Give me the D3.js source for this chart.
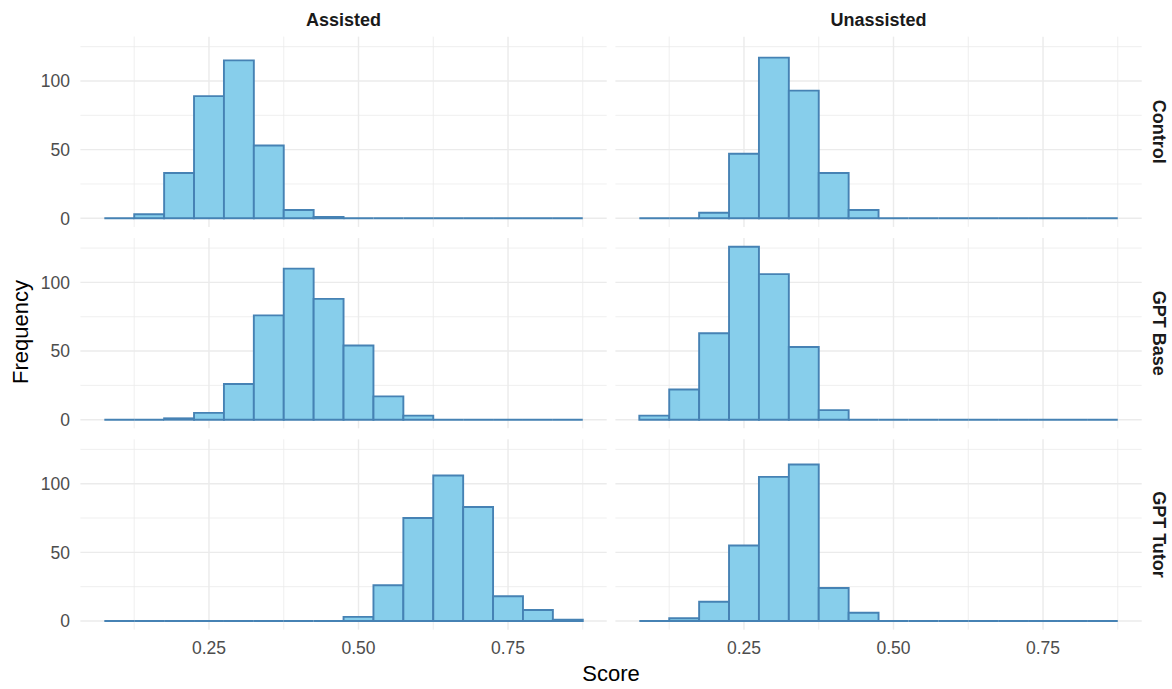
<!DOCTYPE html>
<html><head><meta charset="utf-8">
<script src="https://cdn.jsdelivr.net/npm/d3@7"></script>
<style>body{margin:0;background:#fff;} svg{display:block;font-family:"Liberation Sans",Arial,sans-serif;}</style>
</head><body>
<svg id="chart" width="1172" height="689"></svg>
<script>
// Data
const binCenters = [0.10,0.15,0.20,0.25,0.30,0.35,0.40,0.45,0.50,0.55,0.60,0.65,0.70,0.75,0.80,0.85];
const binWidth = 0.05;
const rowLabels = ["Control","GPT Base","GPT Tutor"];
const colLabels = ["Assisted","Unassisted"];
const controlAssisted     = [0,3,33,89,115,53,6,1,0,0,0,0,0,0,0,0];
const controlUnassisted   = [0,0,4,47,117,93,33,6,0,0,0,0,0,0,0,0];
const gptBaseAssisted     = [0,0,1,5,26,76,110,88,54,17,3,0,0,0,0,0];
const gptBaseUnassisted   = [3,22,63,126,106,53,7,0,0,0,0,0,0,0,0,0];
const gptTutorAssisted    = [0,0,0,0,0,0,0,0,3,26,75,106,83,18,8,1];
const gptTutorUnassisted  = [0,2,14,55,105,114,24,6,0,0,0,0,0,0,0,0];
const xTicks = [0.25,0.50,0.75];
const xMinor = [0.125,0.375,0.625,0.875];
const yTicks = [0,50,100];
const yMinor = [25,75,125];
const panels = [
  [controlAssisted, controlUnassisted],
  [gptBaseAssisted, gptBaseUnassisted],
  [gptTutorAssisted, gptTutorUnassisted]
];

const svg = d3.select("#chart");
const colX = [[80.4,606.7],[615.4,1141.7]];
const zeroY = [218.3,419.7,621.0];
const pxPerUnit = 1.373;
const yDom = [-6.3,132.3];

const fill = "#87CEEB", stroke = "#4682B4";

panels.forEach((row, ri) => {
  row.forEach((counts, ci) => {
    const x = d3.scaleLinear().domain([0.035,0.915]).range(colX[ci]);
    const y = d3.scaleLinear().domain(yDom)
      .range([zeroY[ri] + 6.3*pxPerUnit, zeroY[ri] - 132.3*pxPerUnit]);
    const g = svg.append("g");
    const [x0,x1] = colX[ci];
    const [yb,yt] = y.range();
    // minor grid
    g.selectAll(".vmin").data(xMinor).join("line")
      .attr("x1",d=>x(d)).attr("x2",d=>x(d)).attr("y1",yb).attr("y2",yt)
      .attr("stroke","#EBEBEB").attr("stroke-width",0.8);
    g.selectAll(".hmin").data(yMinor).join("line")
      .attr("y1",d=>y(d)).attr("y2",d=>y(d)).attr("x1",x0).attr("x2",x1)
      .attr("stroke","#EBEBEB").attr("stroke-width",0.8);
    // major grid
    g.selectAll(".vmaj").data(xTicks).join("line")
      .attr("x1",d=>x(d)).attr("x2",d=>x(d)).attr("y1",yb).attr("y2",yt)
      .attr("stroke","#EBEBEB").attr("stroke-width",1.4);
    g.selectAll(".hmaj").data(yTicks).join("line")
      .attr("y1",d=>y(d)).attr("y2",d=>y(d)).attr("x1",x0).attr("x2",x1)
      .attr("stroke","#EBEBEB").attr("stroke-width",1.4);
    // bars (paths so zero-count bins still draw their outline along the baseline)
    g.selectAll("path.bar").data(binCenters.map((c,i)=>({c, n:counts[i]}))).join("path")
      .attr("class","bar")
      .attr("d", d => {
        const a = x(d.c-binWidth/2), b = x(d.c+binWidth/2), y0 = y(0), y1 = y(d.n);
        return `M${a},${y0}V${y1}H${b}V${y0}Z`;
      })
      .attr("fill", fill).attr("stroke", stroke).attr("stroke-width",1.9)
      .attr("stroke-linejoin","miter");
    // y axis labels (left column only)
    if (ci === 0) {
      svg.append("g").selectAll("text").data(yTicks).join("text")
        .attr("x", 70).attr("y", d=>y(d)).attr("dy","0.36em")
        .attr("text-anchor","end").attr("fill","#4D4D4D").attr("font-size",17.5)
        .text(d=>d);
    }
    // x axis labels (bottom row only)
    if (ri === 2) {
      svg.append("g").selectAll("text").data(xTicks).join("text")
        .attr("x", d=>x(d)).attr("y", yb + 24.4)
        .attr("text-anchor","middle").attr("fill","#4D4D4D").attr("font-size",17.5)
        .text(d=>d3.format(".2f")(d));
    }
    // strips
    if (ri === 0) {
      svg.append("text").attr("x",(x0+x1)/2).attr("y",26)
        .attr("text-anchor","middle").attr("font-weight","bold").attr("font-size",18)
        .attr("fill","#1A1A1A").text(colLabels[ci]);
    }
    if (ci === 1) {
      svg.append("text").attr("transform",`translate(1153,${(yb+yt)/2}) rotate(90)`)
        .attr("text-anchor","middle").attr("font-weight","bold").attr("font-size",18)
        .attr("fill","#1A1A1A").text(rowLabels[ri]);
    }
  });
});

svg.append("text").attr("x",611).attr("y",681).attr("text-anchor","middle")
  .attr("font-size",22).attr("fill","#000").text("Score");
svg.append("text").attr("transform","translate(28,332) rotate(-90)").attr("text-anchor","middle")
  .attr("font-size",22).attr("fill","#000").text("Frequency");
</script>
</body></html>
